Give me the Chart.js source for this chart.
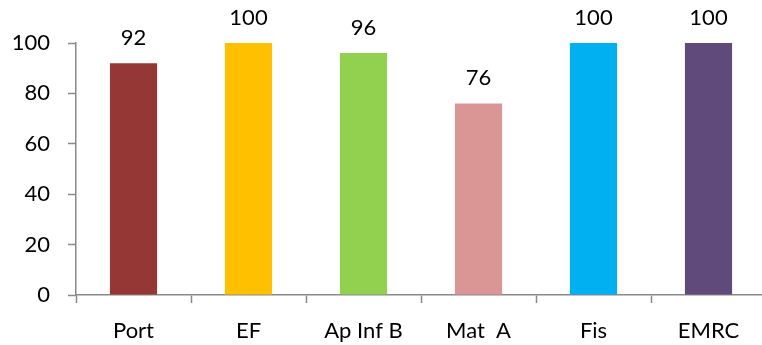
<!DOCTYPE html>
<html>
<head>
<meta charset="utf-8">
<script src="https://cdn.jsdelivr.net/npm/chart.js@4.4.0/dist/chart.umd.min.js"></script>
<style>
  html, body { margin: 0; padding: 0; background: #fff; overflow: hidden; }
  #wrap { width: 770px; height: 345px; }
</style>
</head>
<body>
<div id="wrap"><canvas id="c" width="770" height="345"></canvas></div>
<script>
const categories = ["Port", "EF", "Ap Inf B", "Mat  A", "Fis", "EMRC"];
const values = [92, 100, 96, 76, 100, 100];
const barColors = ["#953735", "#FFC000", "#92D050", "#D99694", "#00B0F0", "#604A7B"];
const yTicks = [0, 20, 40, 60, 80, 100];

const FONT = "Lato, 'Open Sans', sans-serif";
const FSIZE = 22;
const AXIS = "#898989";

const valueLabels = {
  id: "valueLabels",
  afterDatasetsDraw(chart) {
    const ctx = chart.ctx;
    const meta = chart.getDatasetMeta(0);
    ctx.save();
    ctx.font = FSIZE + "px " + FONT;
    ctx.fillStyle = "#000";
    ctx.textAlign = "center";
    ctx.textBaseline = "alphabetic";
    meta.data.forEach((bar, i) => {
      ctx.fillText(String(values[i]), bar.x, bar.y - 18);
    });
    ctx.restore();
  }
};

new Chart(document.getElementById("c"), {
  type: "bar",
  data: {
    labels: categories,
    datasets: [{
      data: values,
      backgroundColor: barColors,
      borderWidth: 0,
      categoryPercentage: 0.41,
      barPercentage: 1.0
    }]
  },
  options: {
    responsive: false,
    animation: false,
    devicePixelRatio: 1,
    layout: { padding: { top: 43, right: 4, bottom: 0, left: 0 } },
    plugins: { legend: { display: false }, tooltip: { enabled: false } },
    scales: {
      x: {
        grid: { drawOnChartArea: false, drawTicks: true, tickLength: 8, tickColor: AXIS, tickWidth: 1.5, offset: true },
        border: { color: AXIS, width: 1.5 },
        ticks: { color: "#000", font: { family: FONT, size: FSIZE }, padding: 15, maxRotation: 0, autoSkip: false },
        afterFit(s) { s.height = 50; }
      },
      y: {
        min: 0, max: 100,
        afterBuildTicks(s) { s.ticks = yTicks.map(v => ({ value: v })); },
        grid: { drawOnChartArea: false, drawTicks: true, tickLength: 8, tickColor: AXIS, tickWidth: 1.5 },
        border: { color: AXIS, width: 1.5 },
        ticks: { color: "#000", font: { family: FONT, size: FSIZE }, padding: 18 },
        afterFit(s) { s.width = 76; }
      }
    }
  },
  plugins: [valueLabels]
});
</script>
</body>
</html>
